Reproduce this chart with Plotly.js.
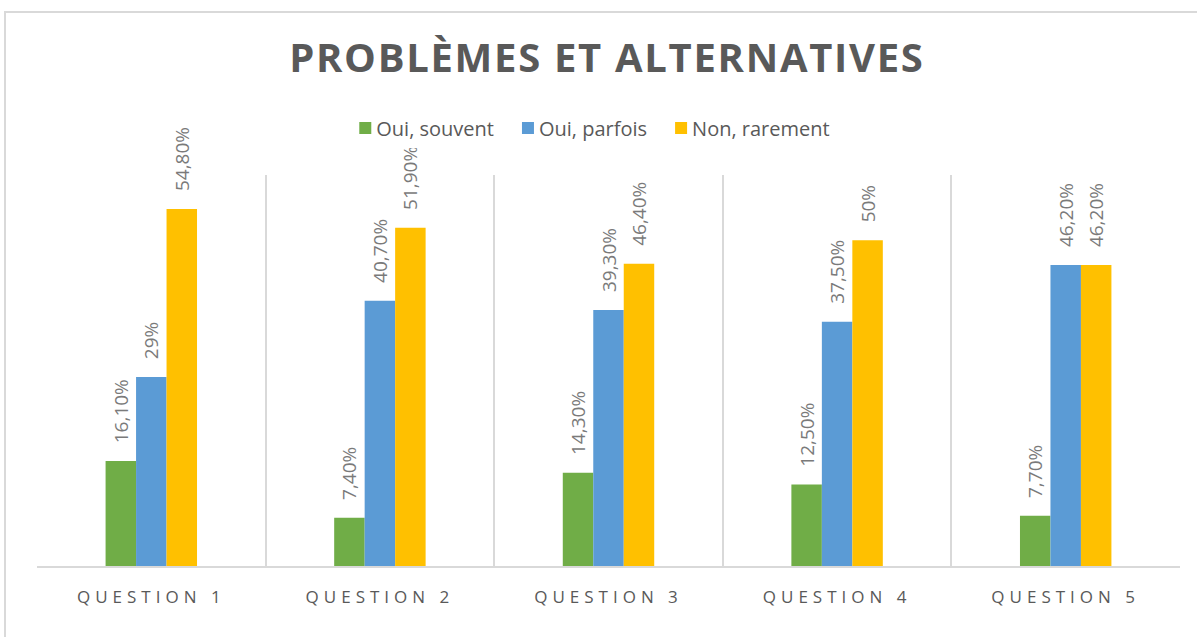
<!DOCTYPE html>
<html>
<head>
<meta charset="utf-8">
<script src="https://cdn.plot.ly/plotly-3.0.1.min.js"></script>
<style>
  html, body { margin: 0; padding: 0; background: #fff; }
  #wrap { position: relative; width: 1197px; height: 637px; overflow: hidden; }
  #chart { width: 1197px; height: 637px; }
  #frame { position: absolute; left: 4px; top: 11px; width: 1200px; height: 700px;
           border: 2px solid #d9d9d9; pointer-events: none; box-sizing: border-box; }
  .xtick text { letter-spacing: 5px; }
  .gtitle { letter-spacing: 1.7px; }
  .legendtext { transform: translateX(-9px); }
</style>
</head>
<body>
<div id="wrap">
  <div id="chart"></div>
  <div id="frame"></div>
</div>
<script>
const categories = ["QUESTION 1", "QUESTION 2", "QUESTION 3", "QUESTION 4", "QUESTION 5"];
const seriesNames = ["Oui, souvent", "Oui, parfois", "Non, rarement"];
const ouiSouvent = [16.1, 7.4, 14.3, 12.5, 7.7];
const ouiParfois = [29, 40.7, 39.3, 37.5, 46.2];
const nonRarement = [54.8, 51.9, 46.4, 50, 46.2];
const ouiSouventLabels = ["16,10%", "7,40%", "14,30%", "12,50%", "7,70%"];
const ouiParfoisLabels = ["29%", "40,70%", "39,30%", "37,50%", "46,20%"];
const nonRarementLabels = ["54,80%", "51,90%", "46,40%", "50%", "46,20%"];
const colors = ["#70AD47", "#5B9BD5", "#FFC000"];

const values = [ouiSouvent, ouiParfois, nonRarement];
const labels = [ouiSouventLabels, ouiParfoisLabels, nonRarementLabels];
const pad = "\u00a0\u00a0\u00a0";

const traces = values.map((v, i) => ({
  type: "bar",
  name: seriesNames[i],
  x: categories,
  y: v,
  text: labels[i].map(s => pad + s),
  textposition: "outside",
  textangle: -90,
  constraintext: "none",
  cliponaxis: false,
  textfont: { family: "Open Sans, sans-serif", size: 19, color: "#7a7a7a" },
  marker: { color: colors[i] },
  hoverinfo: "x+y+name"
}));

const layout = {
  width: 1197,
  height: 637,
  margin: { l: 37, r: 17, t: 175, b: 71 },
  paper_bgcolor: "#ffffff",
  plot_bgcolor: "#ffffff",
  barmode: "group",
  bargap: 0.6,
  bargroupgap: 0,
  title: {
    text: "<b>PROBLÈMES ET ALTERNATIVES</b>",
    font: { family: "Open Sans, sans-serif", size: 40, color: "#595959" },
    x: 0.507, xref: "container", xanchor: "center",
    y: 0.909, yref: "container", yanchor: "middle"
  },
  showlegend: true,
  legend: {
    orientation: "h",
    x: 0.488, xanchor: "center",
    y: 1.12, yanchor: "middle",
    font: { family: "Open Sans, sans-serif", size: 20, color: "#595959" },
    itemwidth: 30,
    traceorder: "normal"
  },
  xaxis: {
    type: "category",
    tickson: "boundaries",
    showgrid: true,
    gridcolor: "#d9d9d9",
    gridwidth: 2,
    showline: true,
    linecolor: "#d9d9d9",
    linewidth: 2,
    ticks: "",
    tickfont: { family: "Open Sans, sans-serif", size: 17, color: "#595959" },
    ticklabelstandoff: 15,
    range: [-0.5, 4.5]
  },
  yaxis: {
    range: [0, 60],
    showgrid: false,
    zeroline: false,
    showticklabels: false,
    showline: false,
    ticks: ""
  }
};

Plotly.newPlot("chart", traces, layout, { displayModeBar: false });
</script>
</body>
</html>
